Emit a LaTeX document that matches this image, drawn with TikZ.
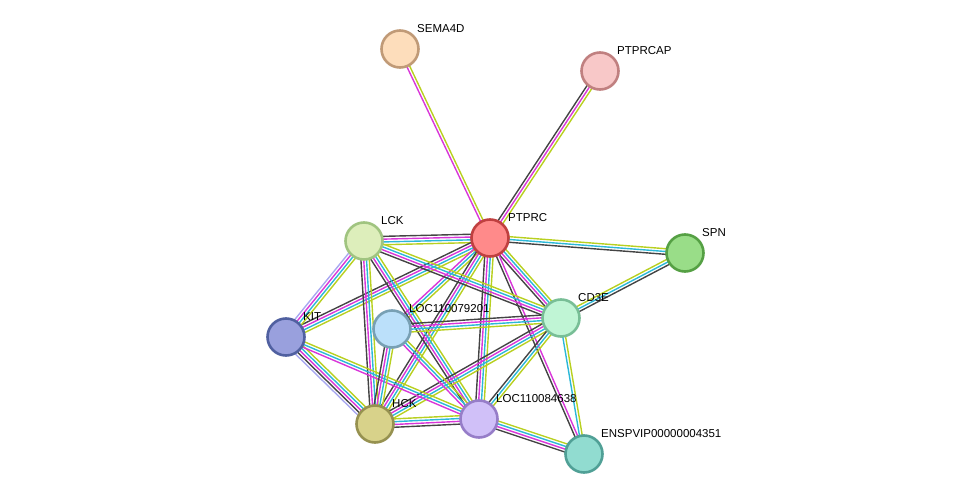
\documentclass[tikz,border=0pt]{standalone}
\usepackage{fontspec}
\setmainfont{Liberation Sans}
\usetikzlibrary{calc}
\definecolor{ek}{HTML}{444444}
\definecolor{em}{HTML}{D936D9}
\definecolor{ec}{HTML}{2CB8D8}
\definecolor{ey}{HTML}{B8D020}
\definecolor{el}{HTML}{A8A8F0}
\newcommand\sedge[4]{%
  \foreach \cc [count=\i] in {#4} {%
    \pgfmathsetmacro\oo{(\i-(#3+1)/2)*2.8}%
    \draw[\cc, line width=1.4pt] ($(#1)!\oo pt!90:(#2)$) -- ($(#2)!\oo pt!-90:(#1)$);
  }}
\tikzset{
  prot/.style={circle, line width=2.6pt, minimum size=37pt, inner sep=0pt},
  lab/.style={anchor=south west, font=\fontsize{11.5}{12}\selectfont, inner sep=1pt}
}
\begin{document}
\begin{tikzpicture}[x=1pt,y=-1pt]
\useasboundingbox (0,0) rectangle (975,500);
\coordinate (sema) at (400,49);
\coordinate (ptprcap) at (600,71);
\coordinate (ptprc) at (490,238);
\coordinate (spn) at (685,253);
\coordinate (lck) at (364,241);
\coordinate (kit) at (286,337);
\coordinate (l79) at (392,329);
\coordinate (cd3e) at (561,318);
\coordinate (hck) at (375,424);
\coordinate (l84) at (479,419);
\coordinate (ensp) at (584,454);

\sedge{sema}{ptprc}{2}{em,ey}
\sedge{ptprcap}{ptprc}{3}{ek,em,ey}
\sedge{ptprc}{spn}{3}{ek,ec,ey}
\sedge{ptprc}{lck}{4}{ek,em,ec,ey}
\sedge{ptprc}{cd3e}{4}{ek,em,ec,ey}
\sedge{ptprc}{kit}{4}{ek,em,ec,ey}
\sedge{ptprc}{l79}{3}{em,ec,ey}
\sedge{ptprc}{hck}{4}{ek,em,ec,ey}
\sedge{ptprc}{l84}{4}{ek,em,ec,ey}
\sedge{ptprc}{ensp}{2}{ek,em}
\sedge{lck}{cd3e}{4}{ek,em,ec,ey}
\sedge{lck}{kit}{4}{el,em,ec,ey}
\sedge{lck}{hck}{4}{ek,em,ec,ey}
\sedge{lck}{l84}{4}{ek,em,ec,ey}
\sedge{cd3e}{spn}{3}{ek,ec,ey}
\sedge{cd3e}{l79}{4}{ek,em,ec,ey}
\sedge{cd3e}{hck}{4}{ek,em,ec,ey}
\sedge{cd3e}{l84}{3}{ek,ec,ey}
\sedge{cd3e}{ensp}{2}{ec,ey}
\sedge{kit}{hck}{5}{el,ek,em,ec,ey}
\sedge{kit}{l84}{3}{em,ec,ey}
\sedge{l79}{hck}{4}{ek,em,ec,ey}
\sedge{l79}{l84}{3}{em,ec,ey}
\sedge{hck}{l84}{4}{ek,em,ec,ey}
\sedge{l84}{ensp}{4}{ek,em,ec,ey}

\node[prot, fill={rgb,255:red,253;green,221;blue,187}, draw={rgb,255:red,192;green,154;blue,119}] (nsema) at (sema) {};
\node[prot, fill={rgb,255:red,248;green,200;blue,200}, draw={rgb,255:red,192;green,128;blue,128}] (nptprcap) at (ptprcap) {};
\node[prot, fill={rgb,255:red,255;green,138;blue,138}, draw={rgb,255:red,192;green,64;blue,64}] (nptprc) at (ptprc) {};
\node[prot, fill={rgb,255:red,153;green,221;blue,136}, draw={rgb,255:red,85;green,160;blue,68}] (nspn) at (spn) {};
\node[prot, fill={rgb,255:red,221;green,238;blue,187}, draw={rgb,255:red,160;green,196;blue,128}] (nlck) at (lck) {};
\node[prot, fill={rgb,255:red,153;green,160;blue,221}, draw={rgb,255:red,80;green,96;blue,160}] (nkit) at (kit) {};
\node[prot, fill={rgb,255:red,187;green,224;blue,250}, draw={rgb,255:red,120;green,160;blue,180}] (nl79) at (l79) {};
\node[prot, fill={rgb,255:red,192;green,245;blue,213}, draw={rgb,255:red,120;green,190;blue,150}] (ncd3e) at (cd3e) {};
\node[prot, fill={rgb,255:red,216;green,210;blue,138}, draw={rgb,255:red,150;green,145;blue,80}] (nhck) at (hck) {};
\node[prot, fill={rgb,255:red,208;green,192;blue,248}, draw={rgb,255:red,150;green,125;blue,200}] (nl84) at (l84) {};
\node[prot, fill={rgb,255:red,145;green,220;blue,208}, draw={rgb,255:red,80;green,160;blue,150}] (nensp) at (ensp) {};

\node[lab] at (416,34) {SEMA4D};
\node[lab] at (616,56) {PTPRCAP};
\node[lab] at (507,223) {PTPRC};
\node[lab] at (701,238) {SPN};
\node[lab] at (380,226) {LCK};
\node[lab] at (302,322) {KIT};
\node[lab] at (408,314) {LOC110079201};
\node[lab] at (577,303) {CD3E};
\node[lab] at (391,409) {HCK};
\node[lab] at (495,404) {LOC110084638};
\node[lab] at (600,439) {ENSPVIP00000004351};
\end{tikzpicture}
\end{document}
